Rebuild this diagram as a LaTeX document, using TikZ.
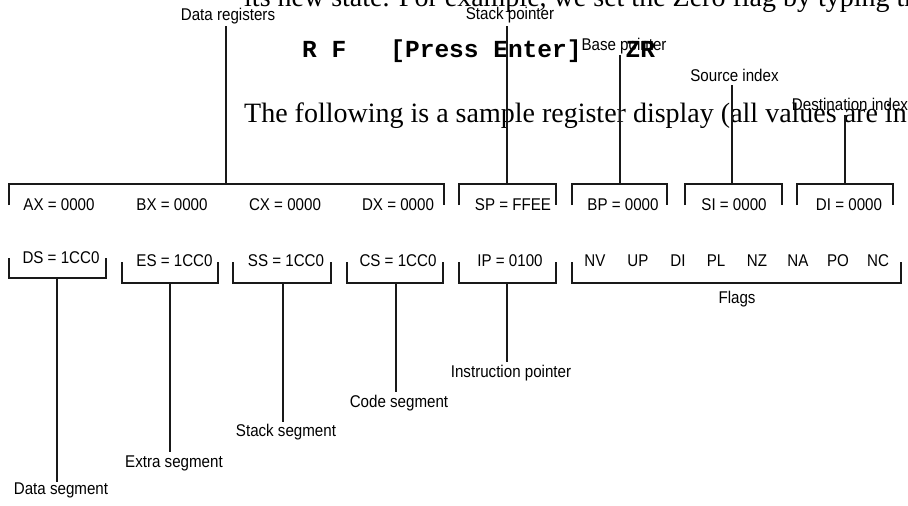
\documentclass[tikz,border=0pt]{standalone}
\usepackage{fontspec}
\setmainfont{Liberation Serif}
\setmonofont{Liberation Mono}
\newfontfamily\labelfont[FakeStretch=0.89]{Liberation Sans}
\begin{document}
\begin{tikzpicture}[x=1pt,y=-1pt,
  lbl/.style={font=\labelfont\fontsize{17}{20}\selectfont, inner sep=0pt, anchor=base},
  brk/.style={line width=1.1pt, black!90},
  lead/.style={line width=1.1pt, black!90},
  serif/.style={font=\fontsize{28}{32}\selectfont, inner sep=0pt, anchor=base west},
  mono/.style={font=\ttfamily\bfseries\fontsize{24.5}{30}\selectfont, inner sep=0pt, anchor=base west}]
\useasboundingbox (0,0) rectangle (908,506);

% background page text
\node[serif] (t1) at (244,6) {its new state. For example, we set the Zero flag by typing the};
\node[mono]  (t2) at (302,57) {R\ F\ \ \ [Press\ Enter]\ \ \ ZR};
\node[serif] (t3) at (244,122) {The following is a sample register display (all values are in};

% top row brackets
\draw[brk] (9,205) -- (9,184) -- (444,184) -- (444,205);
\draw[brk] (459,205) -- (459,184) -- (556,184) -- (556,205);
\draw[brk] (572,205) -- (572,184) -- (667,184) -- (667,205);
\draw[brk] (685,205) -- (685,184) -- (782,184) -- (782,205);
\draw[brk] (797,205) -- (797,184) -- (893,184) -- (893,205);
\coordinate (dr) at (226,184);
\coordinate (sp) at (507,184);
\coordinate (bp) at (620,184);
\coordinate (si) at (732,184);
\coordinate (di) at (845,184);

% top row register values
\node[lbl] (ax) at (59,210) {AX = 0000};
\node[lbl] (bx) at (172,210) {BX = 0000};
\node[lbl] (cx) at (285,210) {CX = 0000};
\node[lbl] (dx) at (398,210) {DX = 0000};
\node[lbl] (spv) at (513,210) {SP = FFEE};
\node[lbl] (bpv) at (623,210) {BP = 0000};
\node[lbl] (siv) at (734,210) {SI = 0000};
\node[lbl] (div) at (849,210) {DI = 0000};

% top labels
\node[lbl] (ldr) at (228,20) {Data registers};
\node[lbl] (lsp) at (510,19.5) {Stack pointer};
\node[lbl] (lbp) at (624,50) {Base pointer};
\node[lbl] (lsi) at (734.5,81) {Source index};
\node[lbl] (ldi) at (850,110) {Destination index};
\coordinate (ldrend) at (226,26);
\coordinate (lspend) at (507,26);
\coordinate (lbpend) at (620,55);
\coordinate (lsiend) at (732,85);
\coordinate (ldiend) at (845,115);
\draw[lead] (dr) -- (ldrend);
\draw[lead] (sp) -- (lspend);
\draw[lead] (bp) -- (lbpend);
\draw[lead] (si) -- (lsiend);
\draw[lead] (di) -- (ldiend);

% bottom row brackets
\draw[brk] (9,258) -- (9,278) -- (106,278) -- (106,258);
\draw[brk] (122,262) -- (122,283) -- (218,283) -- (218,262);
\draw[brk] (233,262) -- (233,283) -- (331,283) -- (331,262);
\draw[brk] (347,262) -- (347,283) -- (443,283) -- (443,262);
\draw[brk] (459,262) -- (459,283) -- (556,283) -- (556,262);
\draw[brk] (572,262) -- (572,283) -- (901,283) -- (901,262);
\coordinate (ds) at (57,278);
\coordinate (es) at (170,283);
\coordinate (ss) at (283,283);
\coordinate (cs) at (396,283);
\coordinate (ip) at (507,283);

% bottom row values
\node[lbl] (dsv) at (61,263) {DS = 1CC0};
\node[lbl] (esv) at (174.5,266) {ES = 1CC0};
\node[lbl] (ssv) at (286,266) {SS = 1CC0};
\node[lbl] (csv) at (398,266) {CS = 1CC0};
\node[lbl] (ipv) at (510,266) {IP = 0100};
\node[lbl] (nv) at (595,266) {NV};
\node[lbl] (up) at (638,266) {UP};
\node[lbl] (dif) at (678,266) {DI};
\node[lbl] (pl) at (716,266) {PL};
\node[lbl] (nz) at (757,266) {NZ};
\node[lbl] (na) at (798,266) {NA};
\node[lbl] (po) at (838,266) {PO};
\node[lbl] (nc) at (878,266) {NC};
\node[lbl] (flags) at (737,303) {Flags};

% bottom labels
\node[lbl] (lds) at (61,494) {Data segment};
\node[lbl] (les) at (174,467) {Extra segment};
\node[lbl] (lss) at (286,436) {Stack segment};
\node[lbl] (lcs) at (399,407) {Code segment};
\node[lbl] (lip) at (511,377) {Instruction pointer};
\coordinate (ldsend) at (57,482);
\coordinate (lesend) at (170,452);
\coordinate (lssend) at (283,422);
\coordinate (lcsend) at (396,392);
\coordinate (lipend) at (507,362);
\draw[lead] (ds) -- (ldsend);
\draw[lead] (es) -- (lesend);
\draw[lead] (ss) -- (lssend);
\draw[lead] (cs) -- (lcsend);
\draw[lead] (ip) -- (lipend);
\end{tikzpicture}
\end{document}
